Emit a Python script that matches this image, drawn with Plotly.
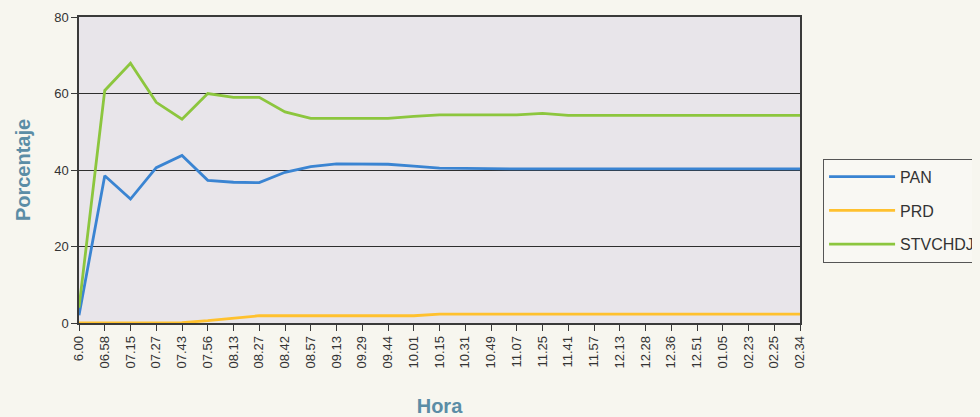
import plotly.graph_objects as go

horas = ["6.00", "06.58", "07.15", "07.27", "07.43", "07.56", "08.13", "08.27", "08.42",
         "08.57", "09.13", "09.29", "09.44", "10.01", "10.15", "10.31", "10.49", "11.07",
         "11.25", "11.41", "11.57", "12.13", "12.28", "12.36", "12.51", "01.05", "02.23",
         "02.25", "02.34"]

pan = [2.0, 38.5, 32.4, 40.6, 43.8, 37.3, 36.8, 36.7, 39.4,
       40.9, 41.6, 41.6, 41.5, 41.0, 40.5, 40.4, 40.3, 40.3,
       40.3, 40.3, 40.3, 40.3, 40.3, 40.3, 40.3, 40.3, 40.3,
       40.3, 40.3]

prd = [0.0, 0.0, 0.0, 0.0, 0.1, 0.6, 1.2, 1.9, 1.9,
       1.9, 1.9, 1.9, 1.9, 1.9, 2.3, 2.3, 2.3, 2.3,
       2.3, 2.3, 2.3, 2.3, 2.3, 2.3, 2.3, 2.3, 2.3,
       2.3, 2.3]

stv = [4.0, 60.8, 67.9, 57.7, 53.3, 60.0, 59.0, 59.0, 55.2,
       53.5, 53.5, 53.5, 53.5, 54.0, 54.4, 54.4, 54.4, 54.4,
       54.8, 54.3, 54.3, 54.3, 54.3, 54.3, 54.3, 54.3, 54.3,
       54.3, 54.3]

series = [("PAN", pan, "#3a84d2"), ("PRD", prd, "#ffc12e"), ("STVCHDJ", stv, "#8cc63e")]

fig = go.Figure()
for name, vals, col in series:
    fig.add_trace(go.Scatter(x=horas, y=vals, mode="lines", name=name,
                             legendgroup=name,
                             line=dict(color=col, width=2.8)))

axis_col = "#3a3a3a"
title_col = "#5b8da6"
page_bg = "#f7f6ef"

fig.update_layout(
    width=972, height=409,
    margin=dict(l=71, r=180, t=9, b=94, autoexpand=False),
    paper_bgcolor=page_bg,
    plot_bgcolor="#e8e5ea",
    font=dict(family="Liberation Sans, Arial, sans-serif", color="#333333", size=13),
    showlegend=True,
    legend=dict(x=1.032, y=0.537, xanchor="left", yanchor="top",
                bgcolor="#f9f8f3", bordercolor="#555555", borderwidth=1,
                font=dict(size=16, color="#333333"), tracegroupgap=10, itemwidth=66),
    xaxis=dict(
        type="category", range=[0, len(horas) - 1], automargin=False,
        tickangle=-90, ticks="outside", ticklen=6, tickcolor=axis_col,
        showline=True, linecolor=axis_col, linewidth=1.5, mirror=True,
        showgrid=False, tickfont=dict(size=13, color="#333333"),
        title=dict(text="<b>Hora</b>", font=dict(size=20, color=title_col), standoff=34),
    ),
    yaxis=dict(
        range=[0, 80], tickvals=[0, 20, 40, 60, 80], automargin=False,
        ticks="outside", ticklen=6, tickcolor=axis_col,
        showline=True, linecolor=axis_col, linewidth=1.5, mirror=True,
        showgrid=True, gridcolor="#2e2e2e", gridwidth=1.2, zeroline=False,
        tickfont=dict(size=13, color="#333333"),
        title=dict(text="<b>Porcentaje</b>", font=dict(size=20, color=title_col), standoff=18),
    ),
)

fig.write_html(
    "out.html",
    post_script="document.body.style.background='%s';"
                "document.documentElement.style.background='%s';" % (page_bg, page_bg),
)
